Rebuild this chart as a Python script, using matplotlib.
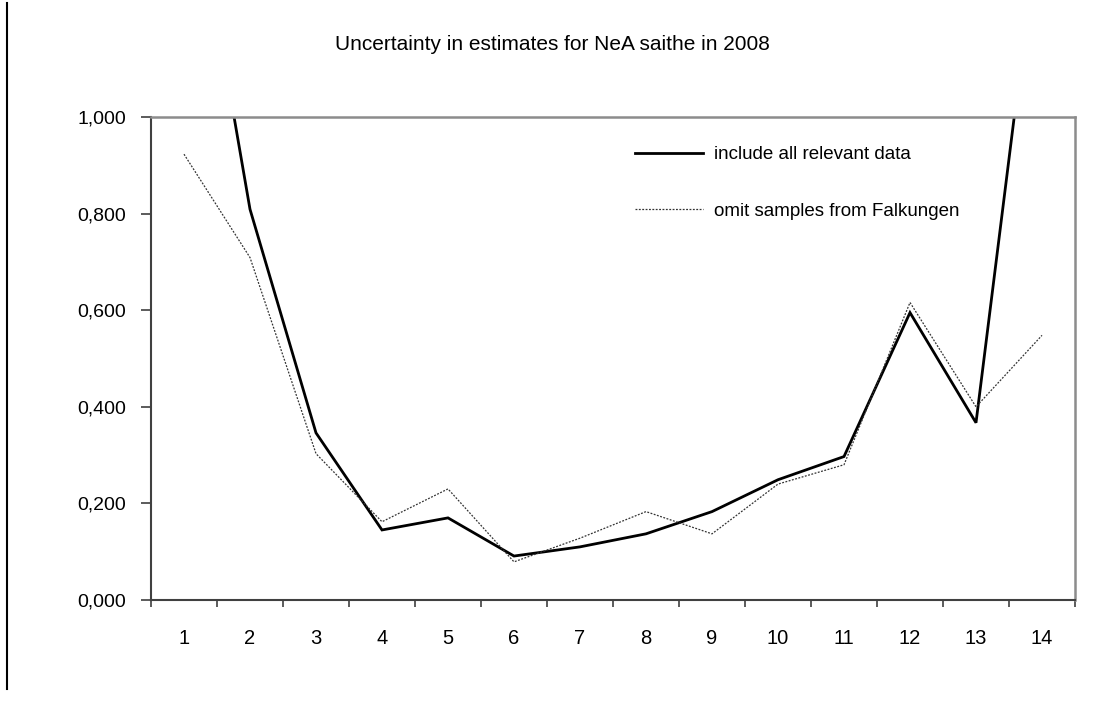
import matplotlib
matplotlib.use("Agg")
import matplotlib.pyplot as plt
from matplotlib.ticker import FuncFormatter, FixedLocator

plt.rcParams['font.family'] = ['Liberation Sans', 'DejaVu Sans']

categories = list(range(1, 15))
all_data = [1.60, 0.809, 0.346, 0.145, 0.170, 0.091, 0.110, 0.137, 0.183, 0.249, 0.297, 0.595, 0.367, 1.46]
omit_falkungen = [0.923, 0.709, 0.303, 0.162, 0.230, 0.079, 0.128, 0.183, 0.137, 0.240, 0.280, 0.616, 0.400, 0.548]
y_ticks = [0.0, 0.2, 0.4, 0.6, 0.8, 1.0]

fig = plt.figure(figsize=(11.17, 7.18), dpi=100)
ax = fig.add_axes([151/1117, 1-600/718, (1075-151)/1117, (600-117)/718])

ax.plot(categories, all_data, color='black', lw=2.0, label='include all relevant data',
        solid_joinstyle='miter')
ax.plot(categories, omit_falkungen, color='#333333', lw=0.9, linestyle=(0, (1.5, 1.2)),
        label='omit samples from Falkungen')

ax.set_xlim(0.5, 14.5)
ax.set_ylim(0, 1.0)
ax.set_yticks(y_ticks)
ax.yaxis.set_major_formatter(FuncFormatter(lambda v, p: f"{v:.3f}".replace('.', ',')))

ax.xaxis.set_major_locator(FixedLocator([c - 0.5 for c in categories] + [categories[-1] + 0.5]))
ax.xaxis.set_major_formatter(FuncFormatter(lambda v, p: ''))
ax.xaxis.set_minor_locator(FixedLocator(categories))
ax.xaxis.set_minor_formatter(FuncFormatter(lambda v, p: f"{int(round(v))}"))
ax.tick_params(axis='x', which='minor', length=0, labelsize=14.5, pad=21)
ax.tick_params(axis='x', which='major', length=5, width=1.2, color='#404040', direction='out')
ax.tick_params(axis='y', length=7, width=1.2, color='#404040', direction='out', labelsize=14, pad=11)

for side in ['top', 'right']:
    ax.spines[side].set_color('#8c8c8c')
    ax.spines[side].set_linewidth(1.8)
for side in ['left', 'bottom']:
    ax.spines[side].set_color('#404040')
    ax.spines[side].set_linewidth(1.5)

leg = ax.legend(loc='upper left', bbox_to_anchor=(0.506, 0.975), frameon=False,
                fontsize=13.5, handlelength=3.6, handletextpad=0.6, labelspacing=2.1)

fig.text(552/1117, 1-45/718, 'Uncertainty in estimates for NeA saithe in 2008',
         ha='center', va='center', fontsize=15)

fig.add_artist(plt.Line2D([7/1117, 7/1117], [1-3/718, 1-689/718], color='black', lw=1.5,
                          transform=fig.transFigure))

fig.savefig('out.png', dpi=100, facecolor='white')
